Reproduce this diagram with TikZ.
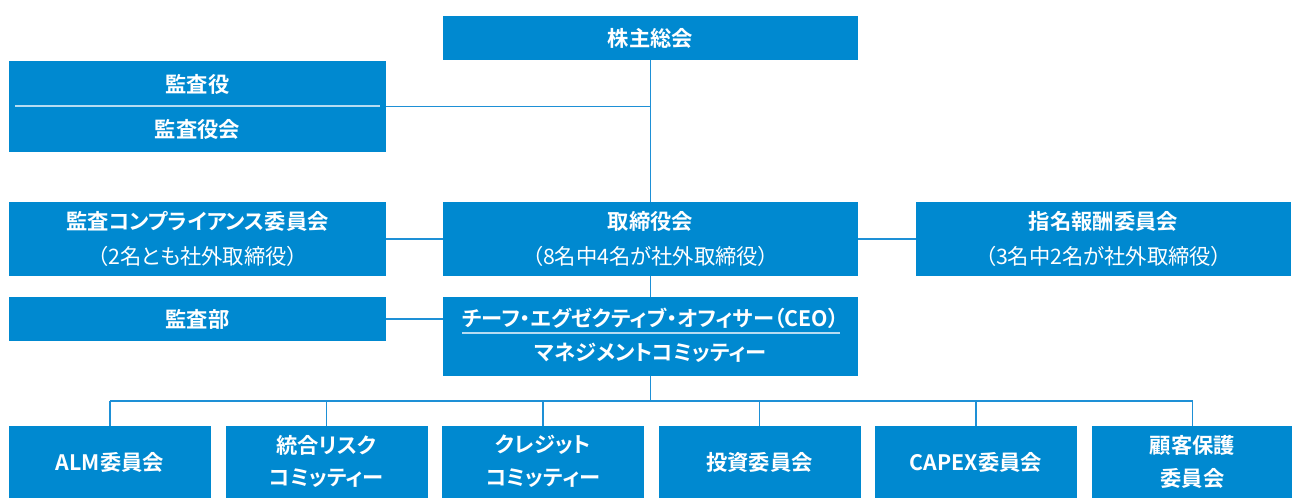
\documentclass[tikz,border=0pt]{standalone}
\usepackage{fontspec}
\setmainfont{Noto Sans CJK JP}[BoldFont=* Bold, RawFeature=+palt]
\definecolor{boxblue}{HTML}{0089D0}
\definecolor{lineblue}{HTML}{1E90D6}
\definecolor{divider}{HTML}{B5DCF2}
\tikzset{
  box/.style={fill=boxblue, draw=none, inner sep=0pt, outer sep=0pt},
  ttl/.style={text=white, font=\bfseries\fontsize{21.3}{24}\selectfont, inner sep=0pt},
  sub/.style={text=white, font=\fontsize{21.3}{24}\selectfont, inner sep=0pt},
  conn/.style={draw=lineblue, line width=1.2pt},
  sep/.style={draw=divider, line width=1.2pt}
}
\begin{document}
\begin{tikzpicture}[x=1pt,y=-1pt]
\useasboundingbox (0,0) rectangle (1292,498);
% boxes
\node[box, minimum width=415pt, minimum height=44pt] (agm) at (650.5,38) {};
\node[box, minimum width=377pt, minimum height=91pt] (ka) at (197.5,106.5) {};
\node[box, minimum width=377pt, minimum height=74pt] (acc) at (197.5,239) {};
\node[box, minimum width=415pt, minimum height=74pt] (board) at (650.5,239) {};
\node[box, minimum width=375pt, minimum height=74pt] (nom) at (1103.5,239) {};
\node[box, minimum width=377pt, minimum height=44pt] (audit) at (197.5,319) {};
\node[box, minimum width=415pt, minimum height=79pt] (ceo) at (650.5,336.5) {};
\foreach \i/\n in {0/b1,1/b2,2/b3,3/b4,4/b5,5/b6}{
  \node[box, minimum width=202pt, minimum height=72pt] (\n) at ({110+216.5*\i},462) {};
}
% connectors
\coordinate (bus) at (650.5,401);
\draw[conn] (agm.south) -- (board.north);
\draw[conn] (board.south) -- (ceo.north);
\draw[conn] (ceo.south) -- (bus);
\draw[conn] (ka.east) -- (ka.east -| agm.south);
\draw[conn] (acc.east) -- (board.west);
\draw[conn] (board.east) -- (nom.west);
\draw[conn] (audit.east) -- (audit.east -| ceo.west);
\draw[conn] (b1.north |- bus) -- (b6.north |- bus);
\foreach \n in {b1,b2,b3,b4,b5,b6}{
  \draw[conn] (\n.north) -- (\n.north |- bus);
}
% dividers
\draw[sep] (15,106) -- (380,106);
\draw[sep] (462,333) -- (840,333);
% texts
\node[ttl] (t-agm) at (agm.center) {株主総会};
\node[ttl] (t-ka1) at (197.5,84) {監査役};
\node[ttl] (t-ka2) at (197.5,129) {監査役会};
\node[ttl] (t-acc) at (197.5,221) {監査コンプライアンス委員会};
\node[sub] (s-acc) at (197.5,256) {（2名とも社外取締役）};
\node[ttl] (t-board) at (650.5,221) {取締役会};
\node[sub] (s-board) at (650.5,256) {（8名中4名が社外取締役）};
\node[ttl] (t-nom) at (1103.5,221) {指名報酬委員会};
\node[sub] (s-nom) at (1103.5,256) {（3名中2名が社外取締役）};
\node[ttl] (t-audit) at (audit.center) {監査部};
\node[ttl] (t-ceo1) at (650.5,318) {チーフ・エグゼクティブ・オフィサー（CEO）};
\node[ttl] (t-ceo2) at (650.5,353) {マネジメントコミッティー};
\node[ttl] (t-b1) at (b1.center) {ALM委員会};
\node[ttl] (t-b2a) at (326.5,445) {統合リスク};
\node[ttl] (t-b2b) at (326.5,478) {コミッティー};
\node[ttl] (t-b3a) at (543,445) {クレジット};
\node[ttl] (t-b3b) at (543,478) {コミッティー};
\node[ttl] (t-b4) at (b4.center) {投資委員会};
\node[ttl] (t-b5) at (b5.center) {CAPEX委員会};
\node[ttl] (t-b6a) at (1192.5,445) {顧客保護};
\node[ttl] (t-b6b) at (1192.5,478) {委員会};
\end{tikzpicture}
\end{document}
